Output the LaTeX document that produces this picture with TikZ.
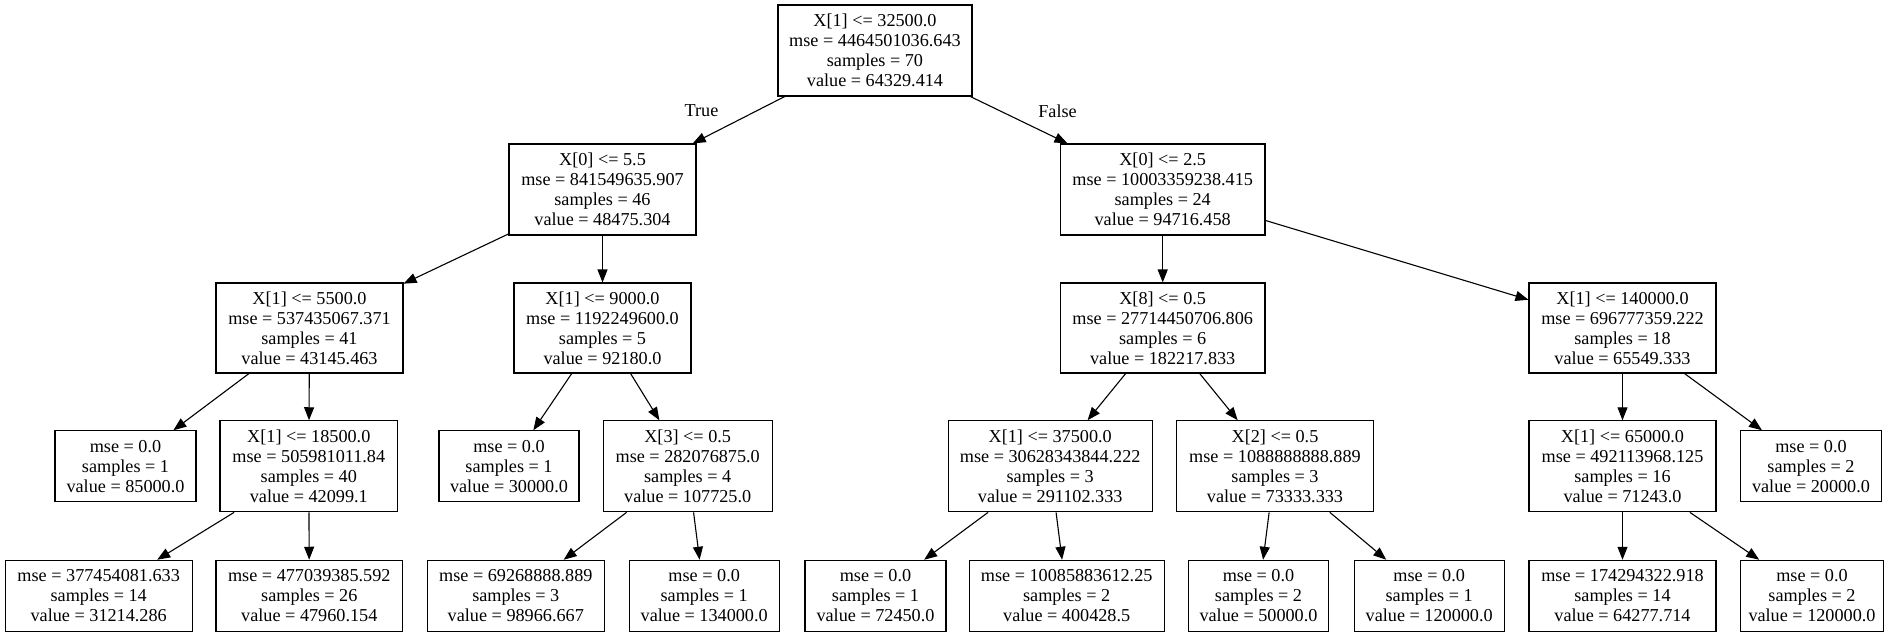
\documentclass[tikz,border=0pt]{standalone}
\usepackage{fontspec}
\setmainfont{Liberation Serif}
\usetikzlibrary{arrows.meta}
\tikzset{
  box/.style={draw=black, line width=1.1pt, rectangle, inner sep=0pt, align=center,
    font=\fontsize{18.2}{20}\selectfont},
  edge/.style={draw=black, line width=1.1pt, -{Triangle[length=13pt,width=10pt]}},
  elabel/.style={inner sep=0pt, font=\fontsize{18.2}{20}\selectfont},
  W/.style={minimum width=#1pt},
  H/.style={minimum height=#1pt}
}
\begin{document}
\begin{tikzpicture}[x=1pt,y=-1pt]
\useasboundingbox (0,0) rectangle (1896,637);
% level 0
\node[box,W=194,H=91] (root) at (875,50.5) {X[1] <= 32500.0\\mse = 4464501036.643\\samples = 70\\value = 64329.414};
% level 1
\node[box,W=187,H=91] (n1) at (602.5,189.5) {X[0] <= 5.5\\mse = 841549635.907\\samples = 46\\value = 48475.304};
\node[box,W=204.5,H=91] (n2) at (1162.7,189.5) {X[0] <= 2.5\\mse = 10003359238.415\\samples = 24\\value = 94716.458};
% level 2
\node[box,W=187,H=90] (n3) at (309.5,328) {X[1] <= 5500.0\\mse = 537435067.371\\samples = 41\\value = 43145.463};
\node[box,W=177,H=90] (n4) at (602.5,328) {X[1] <= 9000.0\\mse = 1192249600.0\\samples = 5\\value = 92180.0};
\node[box,W=204.5,H=90] (n5) at (1162.7,328) {X[8] <= 0.5\\mse = 27714450706.806\\samples = 6\\value = 182217.833};
\node[box,W=187,H=90] (n6) at (1622.5,328) {X[1] <= 140000.0\\mse = 696777359.222\\samples = 18\\value = 65549.333};
% level 3
\node[box,W=141,H=71] (l1) at (125.5,466.3) {mse = 0.0\\samples = 1\\value = 85000.0};
\node[box,W=177.7,H=91] (n7) at (308.8,466.3) {X[1] <= 18500.0\\mse = 505981011.84\\samples = 40\\value = 42099.1};
\node[box,W=140,H=71] (l2) at (509,466.3) {mse = 0.0\\samples = 1\\value = 30000.0};
\node[box,W=169.3,H=91] (n8) at (687.7,466.3) {X[3] <= 0.5\\mse = 282076875.0\\samples = 4\\value = 107725.0};
\node[box,W=203.7,H=91] (n9) at (1050.2,466.3) {X[1] <= 37500.0\\mse = 30628343844.222\\samples = 3\\value = 291102.333};
\node[box,W=196.6,H=91] (n10) at (1275,466.3) {X[2] <= 0.5\\mse = 1088888888.889\\samples = 3\\value = 73333.333};
\node[box,W=187,H=91] (n11) at (1622.5,466.3) {X[1] <= 65000.0\\mse = 492113968.125\\samples = 16\\value = 71243.0};
\node[box,W=140.5,H=71] (l3) at (1811,466.3) {mse = 0.0\\samples = 2\\value = 20000.0};
% level 4
\node[box,W=187.3,H=71] (l4) at (98.7,595.8) {mse = 377454081.633\\samples = 14\\value = 31214.286};
\node[box,W=186.7,H=71] (l5) at (309.3,595.8) {mse = 477039385.592\\samples = 26\\value = 47960.154};
\node[box,W=177,H=71] (l6) at (515.8,595.8) {mse = 69268888.889\\samples = 3\\value = 98966.667};
\node[box,W=150.3,H=71] (l7) at (704.2,595.8) {mse = 0.0\\samples = 1\\value = 134000.0};
\node[box,W=141,H=71] (l8) at (875.5,595.8) {mse = 0.0\\samples = 1\\value = 72450.0};
\node[box,W=194.7,H=71] (l9) at (1066.7,595.8) {mse = 10085883612.25\\samples = 2\\value = 400428.5};
\node[box,W=139.6,H=71] (l10) at (1258.5,595.8) {mse = 0.0\\samples = 2\\value = 50000.0};
\node[box,W=150.3,H=71] (l11) at (1429.2,595.8) {mse = 0.0\\samples = 1\\value = 120000.0};
\node[box,W=187,H=71] (l12) at (1622.5,595.8) {mse = 174294322.918\\samples = 14\\value = 64277.714};
\node[box,W=142.5,H=71] (l13) at (1812,595.8) {mse = 0.0\\samples = 2\\value = 120000.0};
% edge labels
\node[elabel] (ltrue) at (701.5,111) {True};
\node[elabel] (lfalse) at (1057.5,111) {False};
% edges
\draw[edge] (root) -- (n1);
\draw[edge] (root) -- (n2);
\draw[edge] (n1) -- (n3);
\draw[edge] (n1) -- (n4);
\draw[edge] (n2) -- (n5);
\draw[edge] (n2) -- (n6);
\draw[edge] (n3) -- (l1);
\draw[edge] (n3) -- (n7);
\draw[edge] (n4) -- (l2);
\draw[edge] (n4) -- (n8);
\draw[edge] (n5) -- (n9);
\draw[edge] (n5) -- (n10);
\draw[edge] (n6) -- (n11);
\draw[edge] (n6) -- (l3);
\draw[edge] (n7) -- (l4);
\draw[edge] (n7) -- (l5);
\draw[edge] (n8) -- (l6);
\draw[edge] (n8) -- (l7);
\draw[edge] (n9) -- (l8);
\draw[edge] (n9) -- (l9);
\draw[edge] (n10) -- (l10);
\draw[edge] (n10) -- (l11);
\draw[edge] (n11) -- (l12);
\draw[edge] (n11) -- (l13);
\end{tikzpicture}
\end{document}
